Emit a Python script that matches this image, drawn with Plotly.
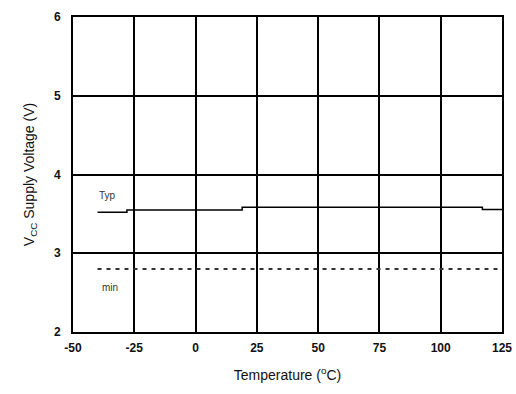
import plotly.graph_objects as go

typ_temp = [-40, -28, 19, 117, 125]
typ_volt = [3.52, 3.55, 3.585, 3.555, 3.555]
min_temp = [-40, 125]
min_volt = [2.8, 2.8]
x_ticks = [-50, -25, 0, 25, 50, 75, 100, 125]
x_labels = ["<b>-50</b>", "<b>-25</b>", "<b>0</b>", "<b>25</b>", "<b>50</b>", "<b>75</b>", "<b>100</b>", "<b>125</b>"]
y_ticks = [2, 3, 4, 5, 6]
y_labels = ["<b>2</b>", "<b>3</b>", "<b>4</b>", "<b>5</b>", "<b>6</b>"]

fig = go.Figure()
fig.add_trace(go.Scatter(x=typ_temp, y=typ_volt, mode="lines", line=dict(color="black", width=1.5, shape="hv"), showlegend=False))
fig.add_trace(go.Scatter(x=min_temp, y=min_volt, mode="lines", line=dict(color="#333333", width=2, dash="4px,5px"), showlegend=False))

fig.add_annotation(x=-36, y=3.73, text="Typ", showarrow=False, font=dict(size=10, color="#333333"))
fig.add_annotation(x=-35, y=2.56, text="min", showarrow=False, font=dict(size=10, color="#333333"))

fig.update_xaxes(range=[-50, 125], tickvals=x_ticks, ticktext=x_labels, showgrid=True, gridcolor="black", gridwidth=1.5,
                 showline=True, linecolor="black", linewidth=2, mirror=True, zeroline=False, automargin=False,
                 title=dict(text="Temperature (<sup>o</sup>C)", standoff=16, font=dict(size=14)),
                 ticks="", ticklen=0, ticklabelstandoff=4, tickfont=dict(size=12))
fig.update_yaxes(range=[2, 6], tickvals=y_ticks, ticktext=y_labels, showgrid=True, gridcolor="black", gridwidth=1.5,
                 showline=True, linecolor="black", linewidth=2, mirror=True, zeroline=False, automargin=False,
                 title=dict(text="V<sub>CC</sub> Supply Voltage (V)", standoff=16, font=dict(size=14)),
                 ticks="", ticklabelstandoff=8, tickfont=dict(size=12))
fig.update_layout(width=516, height=394, margin=dict(l=73, r=14, t=17, b=62),
                  plot_bgcolor="white", paper_bgcolor="white",
                  font=dict(family="Liberation Sans, Arial, sans-serif", size=11, color="#111111"))
fig.write_html("out.html", config={"displayModeBar": False},
               post_script="document.body.style.margin='0';document.body.style.overflow='hidden';")
